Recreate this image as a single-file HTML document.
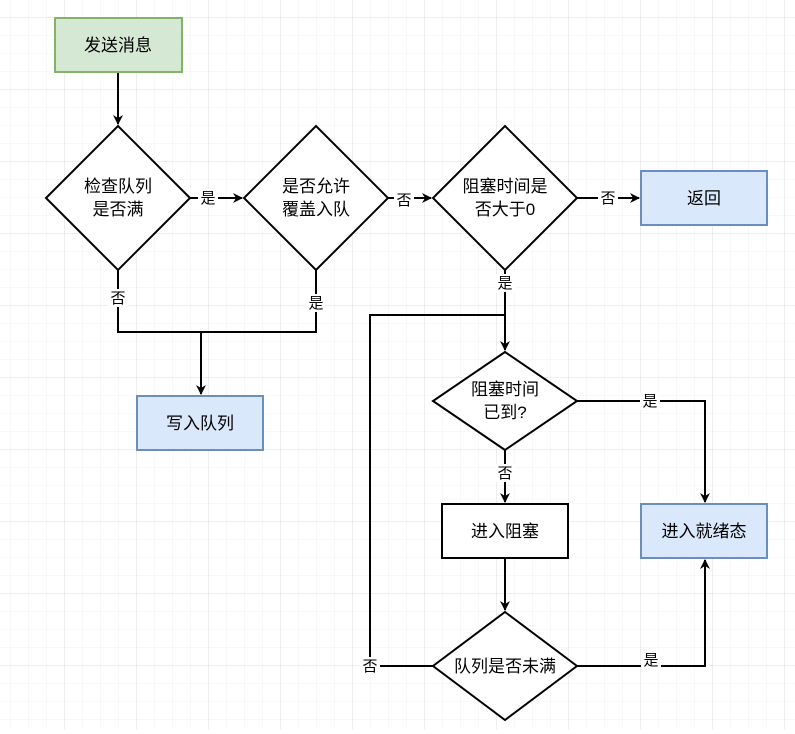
<!DOCTYPE html>
<html><head><meta charset="utf-8"><style>
html,body{margin:0;padding:0;background:#fff}
svg text{font-family:"Liberation Sans","Noto Sans CJK SC",sans-serif;font-size:17px;fill:#000}
</style></head><body>
<svg width="795" height="729" xmlns="http://www.w3.org/2000/svg">
<defs>
<pattern id="mi" x="10" y="17" width="18" height="18" patternUnits="userSpaceOnUse"><path d="M0 0H18M0 0V18" stroke="#f0f0f0" stroke-width="1" fill="none"/></pattern>
<pattern id="ma" x="64" y="17" width="72" height="72" patternUnits="userSpaceOnUse"><path d="M0 0H72M0 0V72" stroke="#dcdcdc" stroke-width="1" fill="none"/></pattern>
<marker id="a" markerWidth="10" markerHeight="10" refX="9" refY="5" orient="auto" markerUnits="userSpaceOnUse"><path d="M0 0L10 5L0 10L3 5Z" fill="#000"/></marker>
</defs>
<rect width="795" height="729" fill="url(#mi)"/>
<rect width="795" height="729" fill="url(#ma)"/>
<g stroke="#000" stroke-width="2" fill="none">
<path d="M118 72V124" marker-end="url(#a)"/>
<path d="M190 198H242" marker-end="url(#a)"/>
<path d="M388 198H431" marker-end="url(#a)"/>
<path d="M577 198H639" marker-end="url(#a)"/>
<path d="M118 270V332H316V270"/>
<path d="M201 332V394" marker-end="url(#a)"/>
<path d="M505 270V350" marker-end="url(#a)"/>
<path d="M433 666H370V315H505"/>
<path d="M577 401H705V502" marker-end="url(#a)"/>
<path d="M505 450V502" marker-end="url(#a)"/>
<path d="M505 558V610" marker-end="url(#a)"/>
<path d="M577 666H705V560" marker-end="url(#a)"/>
</g>
<rect x="55" y="18" width="127" height="54" fill="#d5e8d4" stroke="#82b366" stroke-width="2"/>
<rect x="641" y="171" width="126" height="54" fill="#dae8fc" stroke="#6c8ebf" stroke-width="2"/>
<rect x="137" y="396" width="126" height="54" fill="#dae8fc" stroke="#6c8ebf" stroke-width="2"/>
<rect x="442" y="504" width="126" height="54" fill="#fff" stroke="#000" stroke-width="2"/>
<rect x="641" y="504" width="126" height="54" fill="#dae8fc" stroke="#6c8ebf" stroke-width="2"/>
<g fill="#fff" stroke="#000" stroke-width="2">
<path d="M118 126L190 198L118 270L46 198Z"/>
<path d="M316 126L388 198L316 270L244 198Z"/>
<path d="M505 126L577 198L505 270L433 198Z"/>
<path d="M505 352L577 401L505 450L433 401Z"/>
<path d="M505 612L577 666L505 720L433 666Z"/>
</g>
<g text-anchor="middle">
<text x="118" y="51">发送消息</text>
<text x="118" y="192">检查队列</text><text x="118" y="215">是否满</text>
<text x="316" y="192">是否允许</text><text x="316" y="215">覆盖入队</text>
<text x="505" y="192">阻塞时间是</text><text x="505" y="215">否大于0</text>
<text x="704" y="204">返回</text>
<text x="200" y="429">写入队列</text>
<text x="505" y="395">阻塞时间</text><text x="505" y="418">已到?</text>
<text x="505" y="537">进入阻塞</text>
<text x="704" y="537">进入就绪态</text>
<text x="505" y="672">队列是否未满</text>
</g>
<g text-anchor="middle" style="font-size:15px">
<rect x="198" y="189" width="20" height="18" fill="#fff"/><text x="208" y="203" style="font-size:15px">是</text>
<rect x="394" y="191" width="20" height="18" fill="#fff"/><text x="404" y="205" style="font-size:15px">否</text>
<rect x="598" y="189" width="20" height="18" fill="#fff"/><text x="608" y="203" style="font-size:15px">否</text>
<rect x="108" y="289" width="20" height="18" fill="#fff"/><text x="118" y="303" style="font-size:15px">否</text>
<rect x="306" y="294" width="20" height="18" fill="#fff"/><text x="316" y="308" style="font-size:15px">是</text>
<rect x="495" y="274" width="20" height="18" fill="#fff"/><text x="505" y="288" style="font-size:15px">是</text>
<rect x="640" y="392" width="20" height="18" fill="#fff"/><text x="650" y="406" style="font-size:15px">是</text>
<rect x="495" y="464" width="20" height="18" fill="#fff"/><text x="505" y="478" style="font-size:15px">否</text>
<rect x="360" y="657" width="20" height="18" fill="#fff"/><text x="370" y="671" style="font-size:15px">否</text>
<rect x="641" y="651" width="20" height="18" fill="#fff"/><text x="651" y="665" style="font-size:15px">是</text>
</g>
</svg>
</body></html>
